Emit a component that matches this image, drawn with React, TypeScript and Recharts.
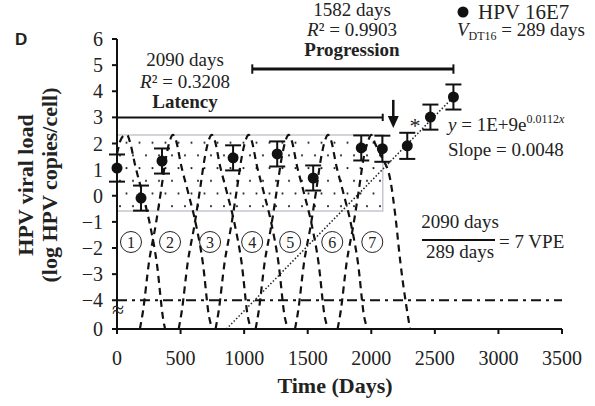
import React from 'react';
import {
  ComposedChart,
  Line,
  Scatter,
  XAxis,
  YAxis,
  ErrorBar,
  ReferenceLine,
  ReferenceArea,
} from 'recharts';

// HPV 16E7 measurements
const days = [0, 189, 354, 913, 1260, 1543, 1921, 2087, 2283, 2465, 2646];
const viralLoad = [1.06, -0.09, 1.33, 1.45, 1.6, 0.68, 1.83, 1.8, 1.91, 3.01, 3.78];
const errors = [0.52, 0.48, 0.48, 0.48, 0.48, 0.48, 0.48, 0.5, 0.5, 0.48, 0.48];

const xTicks = [0, 500, 1000, 1500, 2000, 2500, 3000, 3500];
// bottom tick is the broken-axis "0"
const Y_BREAK = -5.1;
const yTicks = [6, 5, 4, 3, 2, 1, 0, -1, -2, -3, -4, Y_BREAK];

// viral production cycles [day, log load]
const cycle1 = [[0, 1.6], [30, 2.15], [55, 2.3], [79, 2.33], [105, 2.0], [142, 1.18], [197, 0.15], [260, -1.12], [315, -2.65], [362, -4.68], [378, -5.1]];
const cycle2 = [[180, -5.1], [205, -4.4], [250, -2.6], [305, -1.1], [345, 0.15], [385, 1.45], [415, 2.1], [440, 2.33], [465, 2.1], [503, 1.2], [558, 0.15], [621, -1.1], [676, -2.6], [723, -4.6], [750, -5.1]];
const cycle3 = [[485, -5.1], [510, -4.4], [555, -2.6], [610, -1.1], [650, 0.15], [690, 1.45], [720, 2.1], [745, 2.33], [770, 2.1], [808, 1.2], [863, 0.15], [926, -1.1], [981, -2.6], [1028, -4.6], [1055, -5.1]];
const cycle4 = [[775, -5.1], [800, -4.4], [845, -2.6], [900, -1.1], [940, 0.15], [980, 1.45], [1010, 2.1], [1035, 2.33], [1060, 2.1], [1098, 1.2], [1153, 0.15], [1216, -1.1], [1271, -2.6], [1318, -4.6], [1345, -5.1]];
const cycle5 = [[1090, -5.1], [1115, -4.4], [1160, -2.6], [1215, -1.1], [1255, 0.15], [1295, 1.45], [1325, 2.1], [1350, 2.33], [1375, 2.1], [1413, 1.2], [1468, 0.15], [1531, -1.1], [1586, -2.6], [1633, -4.6], [1660, -5.1]];
const cycle6 = [[1400, -5.1], [1425, -4.4], [1470, -2.6], [1525, -1.1], [1565, 0.15], [1605, 1.45], [1635, 2.1], [1660, 2.33], [1685, 2.1], [1723, 1.2], [1778, 0.15], [1841, -1.1], [1896, -2.6], [1943, -4.6], [1970, -5.1]];
const cycle7 = [[1735, -5.1], [1760, -4.4], [1805, -2.6], [1860, -1.1], [1900, 0.15], [1940, 1.45], [1975, 2.1], [2000, 2.33], [2030, 2.0], [2080, 1.5], [2150, 0.6], [2190, -0.8], [2230, -2.6], [2275, -4.2], [2305, -5.1]];
const cycles = [cycle1, cycle2, cycle3, cycle4, cycle5, cycle6, cycle7];

const cycleLabelDays = [110, 417, 732, 1063, 1362, 1693, 2008];
const cycleLabelY = -1.77;

// exponential fit (log scale = straight line)
const fitLine = [{ x: 860, y: -5.1 }, { x: 2646, y: 3.78 }];

const points = days.map((d, i) => ({ x: d, y: viralLoad[i], err: errors[i] }));
const cycleData = cycles.map((c) => c.map(([x, y]) => ({ x, y })));
const labelData = cycleLabelDays.map((d, i) => ({ x: d, y: cycleLabelY, n: i + 1 }));
const arrowTip = [{ x: 2173, y: 2.59 }];

const serif = "'Liberation Serif', 'Times New Roman', serif";

const fmtY = (v: number) => (v === Y_BREAK ? '0' : v < 0 ? `\u2212${-v}` : `${v}`);

const Dot = (p: any) => <circle cx={p.cx} cy={p.cy} r={5.5} fill="#111" />;

const NumCircle = (p: any) => (
  <g>
    <circle cx={p.cx} cy={p.cy} r={10.5} fill="none" stroke="#222" strokeWidth={1} />
    <text x={p.cx} y={p.cy + 5.5} textAnchor="middle" fontSize={16} fontFamily={serif} fill="#222">
      {p.payload.n}
    </text>
  </g>
);

const ArrowHead = (p: any) => (
  <polygon points={`${p.cx - 5.5},${p.cy - 12} ${p.cx + 5.5},${p.cy - 12} ${p.cx},${p.cy}`} fill="#111" />
);

export default function App() {
  return (
    <div style={{ position: 'absolute', left: 0, top: 0, width: 595, height: 406, background: '#fff' }}>
      <ComposedChart width={595} height={406} margin={{ top: 39, right: 33, bottom: 47, left: 67 }}>
        <defs>
          <pattern id="dots" patternUnits="userSpaceOnUse" width={13} height={25.4}>
            <circle cx={3} cy={3} r={1.1} fill="#222" />
            <circle cx={9.5} cy={15.7} r={1.1} fill="#222" />
          </pattern>
        </defs>
        <XAxis
          type="number"
          dataKey="x"
          domain={[0, 3500]}
          ticks={xTicks}
          interval={0}
          height={30}
          axisLine={{ stroke: '#111', strokeWidth: 2 }}
          tickLine={{ stroke: '#111', strokeWidth: 2 }}
          tickSize={5}
          tickMargin={17}
          tick={{ fill: '#222', fontSize: 20, fontFamily: serif }}
        />
        <YAxis
          type="number"
          dataKey="y"
          domain={[Y_BREAK, 6]}
          ticks={yTicks}
          interval={0}
          width={50}
          allowDataOverflow
          tickFormatter={fmtY}
          axisLine={{ stroke: '#111', strokeWidth: 2 }}
          tickLine={{ stroke: '#111', strokeWidth: 2 }}
          tickSize={5}
          tickMargin={9}
          tick={{ fill: '#222', fontSize: 20, fontFamily: serif }}
        />
        <ReferenceArea
          x1={0}
          x2={2090}
          y1={-0.58}
          y2={2.33}
          fill="url(#dots)"
          fillOpacity={1}
          stroke="#c3c8cd"
          strokeWidth={1.5}
        />
        <ReferenceLine y={-4} stroke="#111" strokeWidth={2} strokeDasharray="10 5 3 5" />
        {/* latency bar */}
        <ReferenceLine segment={[{ x: 0, y: 3 }, { x: 2090, y: 3 }]} stroke="#111" strokeWidth={2} />
        <ReferenceLine segment={[{ x: 2090, y: 2.86 }, { x: 2090, y: 3.14 }]} stroke="#111" strokeWidth={2} />
        {/* progression bar */}
        <ReferenceLine segment={[{ x: 1064, y: 4.85 }, { x: 2646, y: 4.85 }]} stroke="#111" strokeWidth={3} />
        <ReferenceLine segment={[{ x: 1064, y: 4.67 }, { x: 1064, y: 5.03 }]} stroke="#111" strokeWidth={2} />
        <ReferenceLine segment={[{ x: 2646, y: 4.67 }, { x: 2646, y: 5.03 }]} stroke="#111" strokeWidth={2} />
        {/* arrow shaft */}
        <ReferenceLine segment={[{ x: 2173, y: 3.67 }, { x: 2173, y: 3.0 }]} stroke="#111" strokeWidth={2.5} />
        {cycleData.map((c, i) => (
          <Line
            key={i}
            data={c}
            dataKey="y"
            type="monotone"
            stroke="#111"
            strokeWidth={2.2}
            strokeDasharray="7 5"
            dot={false}
            activeDot={false}
            isAnimationActive={false}
          />
        ))}
        <Line
          data={fitLine}
          dataKey="y"
          type="linear"
          stroke="#222"
          strokeWidth={1.5}
          strokeDasharray="1.5 2"
          dot={false}
          activeDot={false}
          isAnimationActive={false}
        />
        <Scatter data={labelData} dataKey="y" shape={NumCircle} isAnimationActive={false} />
        <Scatter data={arrowTip} dataKey="y" shape={ArrowHead} isAnimationActive={false} />
        <Scatter data={points} dataKey="y" shape={Dot} isAnimationActive={false}>
          <ErrorBar dataKey="err" direction="y" width={8} stroke="#111" strokeWidth={2} isAnimationActive={false} />
        </Scatter>
      </ComposedChart>

      <svg
        width={595}
        height={406}
        style={{ position: 'absolute', left: 0, top: 0, pointerEvents: 'none' }}
        fontFamily={serif}
        fill="#222"
      >
        <text x={15} y={45} fontSize={17} fontWeight="bold" fontFamily="'Liberation Sans', Arial, sans-serif">D</text>

        <text transform="translate(33,185) rotate(-90)" textAnchor="middle" fontSize={22} fontWeight="bold">HPV viral load</text>
        <text transform="translate(57,185) rotate(-90)" textAnchor="middle" fontSize={22} fontWeight="bold">(log HPV copies/cell)</text>
        <text x={335} y={393} textAnchor="middle" fontSize={22} fontWeight="bold">Time (Days)</text>
        <text x={118} y={317} textAnchor="middle" fontSize={22}>≈</text>

        <text x={185} y={65.5} textAnchor="middle" fontSize={19}>2090 days</text>
        <text x={185} y={87.5} textAnchor="middle" fontSize={19}>
          <tspan fontStyle="italic">R</tspan>² = 0.3208
        </text>
        <text x={185} y={108} textAnchor="middle" fontSize={19} fontWeight="bold">Latency</text>

        <text x={352} y={16} textAnchor="middle" fontSize={19}>1582 days</text>
        <text x={352} y={35.5} textAnchor="middle" fontSize={19}>
          <tspan fontStyle="italic">R</tspan>² = 0.9903
        </text>
        <text x={352} y={55.5} textAnchor="middle" fontSize={19} fontWeight="bold">Progression</text>

        <circle cx={463} cy={12} r={5.5} fill="#111" />
        <text x={478} y={19} fontSize={21}>HPV 16E7</text>
        <text x={457} y={36} fontSize={19}>
          <tspan fontStyle="italic">V</tspan>
          <tspan fontSize={12} dy={4}>DT16</tspan>
          <tspan dy={-4}> = 289 days</tspan>
        </text>

        <text x={415} y={133} textAnchor="middle" fontSize={22}>*</text>

        <text x={448} y={130.5} fontSize={19}>
          <tspan fontStyle="italic">y</tspan> = 1E+9e
          <tspan fontSize={12} dy={-8}>0.0112</tspan>
          <tspan fontSize={12} fontStyle="italic">x</tspan>
        </text>
        <text x={448} y={155.5} fontSize={19}>Slope = 0.0048</text>

        <text x={460} y={228} textAnchor="middle" fontSize={19}>2090 days</text>
        <line x1={422} x2={495} y1={240} y2={240} stroke="#111" strokeWidth={2} />
        <text x={460} y={258} textAnchor="middle" fontSize={19}>289 days</text>
        <text x={499} y={247.5} fontSize={19}>= 7 VPE</text>
      </svg>
    </div>
  );
}
